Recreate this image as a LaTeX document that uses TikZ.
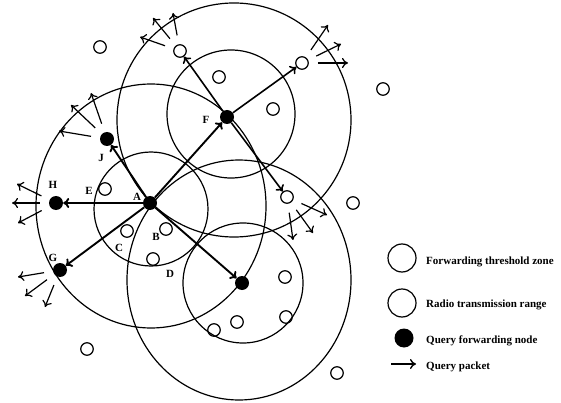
\documentclass[tikz,border=0pt]{standalone}
\usepackage{fontspec}
\setmainfont{Liberation Serif}
\usetikzlibrary{arrows.meta}
\begin{document}
\begin{tikzpicture}[x=1pt, y=-1pt,
    qnode/.style={circle, fill=black, inner sep=0pt, minimum size=14pt},
    snode/.style={circle, draw, line width=1.2pt, inner sep=0pt, minimum size=12.5pt},
    zone/.style={line width=1.2pt},
    query/.style={-{To[length=6pt, width=10pt]}, line width=1.9pt},
    fan/.style={-{To[length=6pt, width=10pt]}, line width=1.2pt, shorten <=9pt},
    lbl/.style={font=\fontsize{11}{13}\selectfont\bfseries, inner sep=0pt}
  ]
  \useasboundingbox (0,0) rectangle (561,403);

  % Query forwarding nodes
  \node[qnode] (A) at (150,203) {};
  \node[qnode] (F) at (227,117) {};
  \node[qnode] (J) at (107,139) {};
  \node[qnode] (H) at (56,203) {};
  \node[qnode] (G) at (60,270) {};
  \node[qnode] (K) at (242,283) {};

  % Other sensor nodes
  \node[snode] (n1) at (100,47) {};
  \node[snode] (n2) at (180,51) {};
  \node[snode] (n3) at (219,77) {};
  \node[snode] (n4) at (273,109) {};
  \node[snode] (n5) at (302,63) {};
  \node[snode] (n6) at (383,89) {};
  \node[snode] (E) at (105,189) {};
  \node[snode] (C) at (127,231) {};
  \node[snode] (B) at (166,229) {};
  \node[snode] (D) at (153,259) {};
  \node[snode] (n7) at (287,197) {};
  \node[snode] (n8) at (353,203) {};
  \node[snode] (n9) at (285,277) {};
  \node[snode] (n10) at (286,317) {};
  \node[snode] (n11) at (237,322) {};
  \node[snode] (n12) at (214,330) {};
  \node[snode] (n13) at (87,349) {};
  \node[snode] (n14) at (337,373) {};

  % Forwarding threshold zones
  \draw[zone] (151,209) circle[radius=57pt];
  \draw[zone] (231,114) circle[radius=64pt];
  \draw[zone] (243,283) circle[radius=60pt];

  % Radio transmission ranges
  \draw[zone] (151,206) ellipse[x radius=115pt, y radius=122pt];
  \draw[zone] (234,120) ellipse[x radius=117pt, y radius=117pt];
  \draw[zone] (239,280) ellipse[x radius=112pt, y radius=120pt];

  % Labels
  \node[lbl] (lA) at (137,197) {A};
  \node[lbl] (lB) at (156,237) {B};
  \node[lbl] (lC) at (119,248) {C};
  \node[lbl] (lD) at (170,274) {D};
  \node[lbl] (lE) at (89,191) {E};
  \node[lbl] (lF) at (206,120) {F};
  \node[lbl] (lG) at (53,258) {G};
  \node[lbl] (lH) at (53,185) {H};
  \node[lbl] (lJ) at (101,158) {J};

  % Query packets from A and F
  \draw[query] (A) -- (F);
  \draw[query] (A) -- (J);
  \draw[query] (A) -- (H);
  \draw[query] (A) -- (G);
  \draw[query] (A) -- (K);
  \draw[query, line width=1.6pt] (F) -- (n2);
  \draw[query, line width=1.6pt] (F) -- (n5);
  \draw[query, line width=1.6pt] (F) -- (n7);

  % Packets leaving the border nodes
  \coordinate (j1) at (59,131);
  \coordinate (j2) at (71,105);
  \coordinate (j3) at (91,93);
  \coordinate (h1) at (17,184);
  \coordinate (h2) at (12,203);
  \coordinate (h3) at (18,223);
  \coordinate (g1) at (18,277);
  \coordinate (g2) at (25,296);
  \coordinate (g3) at (45,307);
  \coordinate (a1) at (140,37);
  \coordinate (a2) at (153,18);
  \coordinate (a3) at (173,13);
  \coordinate (b1) at (328,25);
  \coordinate (b2) at (341,44);
  \coordinate (b3) at (348,63);
  \coordinate (c1) at (293,240);
  \coordinate (c2) at (313,233);
  \coordinate (c3) at (327,215);
  \draw[fan] (J) -- (j1);
  \draw[fan] (J) -- (j2);
  \draw[fan] (J) -- (j3);
  \draw[fan] (H) -- (h1);
  \draw[fan] (H) -- (h2);
  \draw[fan] (H) -- (h3);
  \draw[fan] (G) -- (g1);
  \draw[fan] (G) -- (g2);
  \draw[fan] (G) -- (g3);
  \draw[fan] (n2) -- (a1);
  \draw[fan] (n2) -- (a2);
  \draw[fan] (n2) -- (a3);
  \draw[fan] (n5) -- (b1);
  \draw[fan] (n5) -- (b2);
  \draw[fan] (n5) -- (b3);
  \draw[fan] (n7) -- (c1);
  \draw[fan] (n7) -- (c2);
  \draw[fan] (n7) -- (c3);

  % Legend
  \node[snode, minimum size=28pt] (k1) at (402,258) {};
  \node[lbl, anchor=west] (t1) at (426,262) {Forwarding threshold zone};
  \node[snode, minimum size=28pt] (k2) at (402,303) {};
  \node[lbl, anchor=west] (t2) at (426,305) {Radio transmission range};
  \node[qnode, minimum size=19pt] (k3) at (404,338) {};
  \node[lbl, anchor=west] (t3) at (426,341) {Query forwarding node};
  \coordinate (k4) at (391,364);
  \coordinate (k5) at (416,364);
  \draw[query, line width=1.4pt] (k4) -- (k5);
  \node[lbl, anchor=west] (t4) at (426,367) {Query packet};
\end{tikzpicture}
\end{document}
